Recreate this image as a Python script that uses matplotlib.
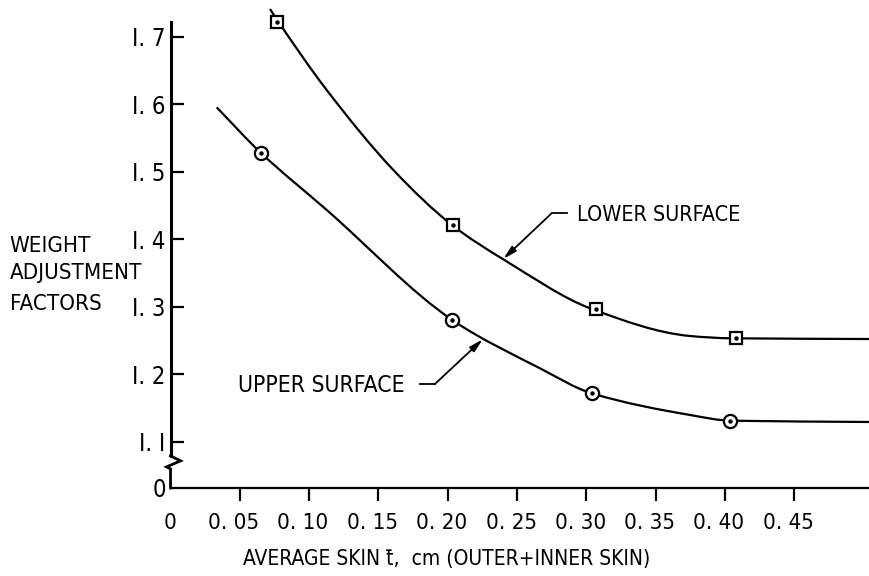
import matplotlib.pyplot as plt
import matplotlib.transforms as mtransforms
from matplotlib.path import Path
from matplotlib.patches import PathPatch

plt.rcParams['font.family'] = ['DejaVu Sans Condensed', 'DejaVu Sans']
plt.rcParams['font.stretch'] = 'condensed'

# curves (skin thickness cm, factor)
lower_x = [0.0718, 0.0778, 0.1127, 0.1608, 0.2031, 0.2401, 0.3046, 0.3748, 0.4049, 0.5047]
lower_y = [1.7410, 1.7222, 1.6210, 1.5025, 1.4210, 1.3702, 1.2961, 1.2566, 1.2532, 1.2521]
upper_x = [0.0333, 0.0651, 0.1127, 0.2035, 0.2666, 0.3039, 0.3748, 0.4044, 0.5047]
upper_y = [1.5954, 1.5281, 1.4433, 1.2800, 1.2087, 1.1717, 1.1396, 1.1311, 1.1292]

# test points
lower_pts_x = [0.077, 0.204, 0.307, 0.408]
lower_pts_y = [1.722, 1.421, 1.297, 1.253]
upper_pts_x = [0.065, 0.203, 0.304, 0.404]
upper_pts_y = [1.528, 1.280, 1.172, 1.131]

xticks = [0, 0.05, 0.10, 0.15, 0.20, 0.25, 0.30, 0.35, 0.40, 0.45]
xticklabels = ['0', '0. 05', '0. 10', '0. 15', '0. 20', '0. 25', '0. 30', '0. 35', '0. 40', '0. 45']
y_zero = 1.0314  # where the broken axis shows 0
yticks = [y_zero, 1.1, 1.2, 1.3, 1.4, 1.5, 1.6, 1.7]
yticklabels = ['0', 'I. I', 'I. 2', 'I. 3', 'I. 4', 'I. 5', 'I. 6', 'I. 7']


def smooth_path(xs, ys):
    # monotone cubic (Fritsch-Carlson) through the read points, as bezier segments
    n = len(xs)
    d = [(ys[i + 1] - ys[i]) / (xs[i + 1] - xs[i]) for i in range(n - 1)]
    m = [d[0]] + [0.0] * (n - 2) + [d[-1]]
    for i in range(1, n - 1):
        if d[i - 1] * d[i] > 0:
            m[i] = 2 / (1 / d[i - 1] + 1 / d[i])
    verts = [(xs[0], ys[0])]
    codes = [Path.MOVETO]
    for i in range(n - 1):
        h = xs[i + 1] - xs[i]
        verts += [(xs[i] + h / 3, ys[i] + m[i] * h / 3),
                  (xs[i + 1] - h / 3, ys[i + 1] - m[i + 1] * h / 3),
                  (xs[i + 1], ys[i + 1])]
        codes += [Path.CURVE4] * 3
    return Path(verts, codes)


fig = plt.figure(figsize=(8.7, 5.76), dpi=100)
ax = fig.add_axes([0.196, 0.1528, 0.804, 0.8472])

for xs, ys in [(lower_x, lower_y), (upper_x, upper_y)]:
    ax.add_patch(PathPatch(smooth_path(xs, ys), fill=False, edgecolor='black',
                           lw=1.6, clip_on=False, zorder=2))

ax.plot(lower_pts_x, lower_pts_y, 's', ms=9, mfc='white', mec='black', mew=1.6,
        clip_on=False, zorder=3)
ax.plot(upper_pts_x, upper_pts_y, 'o', ms=9.5, mfc='white', mec='black', mew=1.6,
        clip_on=False, zorder=3)
ax.plot(lower_pts_x + upper_pts_x, lower_pts_y + upper_pts_y, 'o', ms=2.2,
        color='black', clip_on=False, zorder=4)

ax.set_xlim(0, 0.5047)
ax.set_ylim(y_zero, 1.7544)

for s in ['top', 'right']:
    ax.spines[s].set_visible(False)
ax.spines['bottom'].set_linewidth(1.6)
ax.spines['left'].set_linewidth(2.2)
ax.spines['left'].set_bounds(1.079, 1.7218)

# axis break zigzag
tr = mtransforms.blended_transform_factory(ax.transAxes, ax.transData)
ax.plot([0.0, 0.0143, -0.0057, 0.0, 0.0],
        [1.079, 1.0716, 1.0627, 1.0597, y_zero],
        color='black', lw=2.0, transform=tr, clip_on=False, solid_joinstyle='miter')

ax.set_xticks(xticks)
ax.set_xticklabels(xticklabels, fontsize=16)
ax.set_yticks(yticks)
ax.set_yticklabels(yticklabels, fontsize=17)
ax.tick_params(axis='x', direction='out', length=9, width=1.6, pad=9)
ax.tick_params(axis='y', direction='in', length=9, width=1.6, pad=3.5)
ax.xaxis.get_major_ticks()[0].tick1line.set_visible(False)
ax.yaxis.get_major_ticks()[0].tick1line.set_visible(False)
shift = mtransforms.ScaledTranslation(-6 / 100, 0, fig.dpi_scale_trans)
for lab in ax.get_xticklabels()[1:]:
    lab.set_transform(lab.get_transform() + shift)

ax.set_xlabel('AVERAGE SKIN t\u0304,  cm (OUTER+INNER SKIN)', fontsize=15, labelpad=9)
ax.xaxis.set_label_coords(0.395, -0.125)

# y axis caption, one line each
fig.text(0.011, 1 - 246 / 576, 'WEIGHT', fontsize=16, va='center', ha='left')
fig.text(0.011, 1 - 273 / 576, 'ADJUSTMENT', fontsize=16, va='center', ha='left')
fig.text(0.011, 1 - 304 / 576, 'FACTORS', fontsize=16, va='center', ha='left')

# leaders
ax.plot([0.2859, 0.2750], [1.4384, 1.4384], color='black', lw=1.3)
ax.annotate('', xy=(0.2401, 1.3707), xytext=(0.2750, 1.4384),
            arrowprops=dict(arrowstyle='-|>,head_length=0.8,head_width=0.2',
                            color='black', lw=1.3, shrinkA=0, shrinkB=0))
ax.text(0.2931, 1.4358, 'LOWER SURFACE', fontsize=15.5, va='center', ha='left')

ax.plot([0.1800, 0.1908], [1.1855, 1.1855], color='black', lw=1.3)
ax.annotate('', xy=(0.2253, 1.2517), xytext=(0.1908, 1.1855),
            arrowprops=dict(arrowstyle='-|>,head_length=0.8,head_width=0.2',
                            color='black', lw=1.3, shrinkA=0, shrinkB=0))
ax.text(0.169, 1.1837, 'UPPER SURFACE', fontsize=16.5, va='center', ha='right')

fig.savefig('out.png', dpi=100)
